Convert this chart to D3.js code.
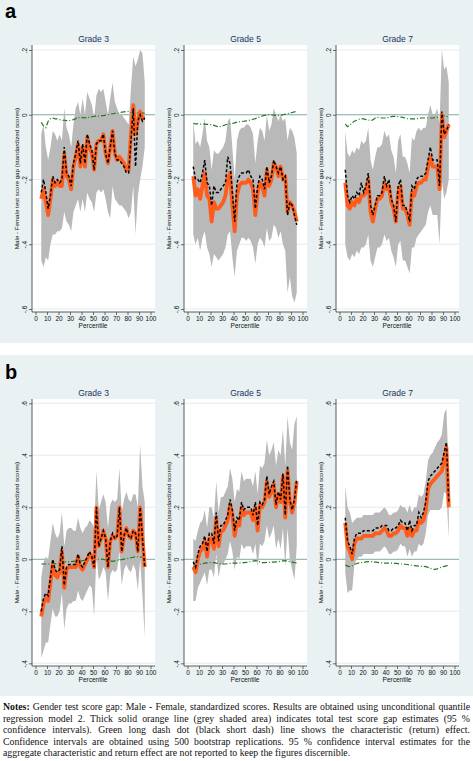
<!DOCTYPE html>
<html><head><meta charset="utf-8">
<script src="https://cdn.jsdelivr.net/npm/d3@7"></script>
<style>
html,body{margin:0;padding:0;background:#fff;width:473px;height:761px;overflow:hidden}
#chart{position:absolute;left:0;top:0}
#notes{position:absolute;left:3px;top:701px;width:467px;font-family:"Liberation Serif","Times New Roman",serif;font-size:9.8px;line-height:11.5px;color:#111}
#notes div{white-space:nowrap;text-align:justify;text-align-last:justify}
#notes div.last{text-align:left;text-align-last:left}
</style></head>
<body>
<svg id="chart" width="473" height="700"></svg>
<div id="notes"></div>
<script>
// ---------------- DATA ----------------
const percentiles = [5,7,9,11,13,15,17,19,21,23,25,27,29,31,33,35,37,39,41,43,45,47,49,51,53,55,57,59,61,63,65,67,69,71,73,75,77,79,81,83,85,87,89,91,93,95];
const grades = ["Grade 3","Grade 5","Grade 7"];
const panelLetters = ["a","b"];
const xTicks = [0,10,20,30,40,50,60,70,80,90,100];
const yTicksA = [-0.6,-0.4,-0.2,0,0.2];
const yTickLabelsA = ["-.6","-.4","-.2","0",".2"];
const yTicksB = [-0.4,-0.2,0,0.2,0.4,0.6];
const yTickLabelsB = ["-.4","-.2","0",".2",".4",".6"];
const yTitle = "Male - Female test score gap (standardized scores)";
const xTitle = "Percentile";
const notesLabel = "Notes:";
const notesLines = [
  " Gender test score gap: Male - Female, standardized scores. Results are obtained using unconditional quantile",
  "regression model 2. Thick solid orange line (grey shaded area) indicates total test score gap estimates (95 %",
  "confidence intervals). Green long dash dot (black short dash) line shows the characteristic (return) effect.",
  "Confidence intervals are obtained using 500 bootstrap replications. 95 % confidence interval estimates for the",
  "aggregate characteristic and return effect are not reported to keep the figures discernible."
];

// Panel a, Grade 3
const a3Total = [-0.26,-0.23,-0.27,-0.31,-0.26,-0.20,-0.22,-0.21,-0.22,-0.22,-0.12,-0.19,-0.20,-0.23,-0.16,-0.13,-0.09,-0.16,-0.10,-0.16,-0.07,-0.10,-0.12,-0.17,-0.09,-0.08,-0.08,-0.06,-0.12,-0.15,-0.10,-0.05,-0.12,-0.14,-0.13,-0.14,-0.15,-0.17,-0.17,-0.06,0.03,-0.06,-0.02,0.01,-0.01,-0.01];
const a3Return = [-0.24,-0.20,-0.24,-0.29,-0.25,-0.19,-0.21,-0.20,-0.21,-0.20,-0.10,-0.18,-0.19,-0.22,-0.15,-0.12,-0.08,-0.15,-0.09,-0.15,-0.06,-0.09,-0.11,-0.17,-0.09,-0.08,-0.08,-0.06,-0.12,-0.15,-0.10,-0.05,-0.12,-0.14,-0.14,-0.15,-0.16,-0.18,-0.18,-0.08,0.02,-0.16,-0.02,0.00,-0.02,-0.01];
const a3Char = [-0.023,-0.035,-0.04,-0.02,-0.012,-0.01,-0.013,-0.013,-0.015,-0.017,-0.017,-0.018,-0.018,-0.017,-0.015,-0.012,-0.008,-0.01,-0.008,-0.01,-0.008,-0.008,-0.006,-0.005,-0.003,-0.004,-0.003,-0.003,-0.001,0.0,0.002,0.003,0.004,0.004,0.006,0.008,0.009,0.01,0.01,0.006,0.002,0.004,0.006,0.007,0.006,0.004];
const a3Lower = [-0.45,-0.47,-0.44,-0.45,-0.40,-0.37,-0.37,-0.36,-0.36,-0.35,-0.30,-0.33,-0.34,-0.36,-0.30,-0.28,-0.26,-0.30,-0.26,-0.30,-0.24,-0.26,-0.27,-0.30,-0.24,-0.23,-0.24,-0.23,-0.26,-0.30,-0.32,-0.22,-0.26,-0.27,-0.28,-0.28,-0.29,-0.30,-0.32,-0.30,-0.22,-0.37,-0.25,-0.20,-0.16,-0.10];
const a3Upper = [-0.06,-0.03,-0.10,-0.14,-0.10,-0.05,-0.06,-0.08,-0.06,-0.08,0.02,-0.04,-0.06,-0.10,-0.03,0.02,0.04,0.00,0.05,0.00,0.07,0.05,0.03,-0.01,0.06,0.08,0.07,0.08,0.04,0.00,0.05,0.10,0.04,0.02,0.00,0.00,-0.01,-0.02,-0.03,0.08,0.18,0.15,0.17,0.20,0.19,0.10];

// Panel a, Grade 5
const a5Total = [-0.19,-0.25,-0.23,-0.26,-0.22,-0.18,-0.25,-0.26,-0.33,-0.27,-0.29,-0.29,-0.28,-0.27,-0.25,-0.20,-0.18,-0.28,-0.36,-0.25,-0.22,-0.21,-0.21,-0.21,-0.20,-0.21,-0.23,-0.31,-0.24,-0.21,-0.22,-0.25,-0.17,-0.22,-0.20,-0.15,-0.16,-0.19,-0.16,-0.20,-0.19,-0.30,-0.27,-0.28,-0.30,-0.33];
const a5Return = [-0.16,-0.20,-0.20,-0.21,-0.18,-0.14,-0.21,-0.22,-0.28,-0.22,-0.24,-0.24,-0.23,-0.22,-0.21,-0.13,-0.15,-0.24,-0.33,-0.21,-0.19,-0.18,-0.18,-0.18,-0.17,-0.19,-0.20,-0.29,-0.22,-0.19,-0.20,-0.23,-0.16,-0.21,-0.19,-0.14,-0.16,-0.18,-0.16,-0.20,-0.19,-0.31,-0.27,-0.28,-0.31,-0.34];
const a5Char = [-0.027,-0.028,-0.028,-0.029,-0.029,-0.029,-0.03,-0.03,-0.031,-0.033,-0.035,-0.038,-0.036,-0.034,-0.031,-0.029,-0.028,-0.027,-0.025,-0.023,-0.022,-0.021,-0.02,-0.019,-0.018,-0.016,-0.014,-0.012,-0.009,-0.006,-0.004,-0.002,-0.001,0.0,0.0,-0.001,-0.002,-0.003,-0.002,0.0,0.002,0.003,0.005,0.007,0.009,0.01];
const a5Lower = [-0.37,-0.40,-0.38,-0.42,-0.38,-0.36,-0.41,-0.43,-0.47,-0.43,-0.44,-0.45,-0.44,-0.43,-0.41,-0.37,-0.36,-0.44,-0.50,-0.42,-0.40,-0.38,-0.38,-0.39,-0.38,-0.39,-0.41,-0.46,-0.40,-0.38,-0.39,-0.41,-0.35,-0.39,-0.38,-0.34,-0.35,-0.38,-0.36,-0.40,-0.42,-0.55,-0.50,-0.56,-0.58,-0.55];
const a5Upper = [-0.02,-0.09,-0.08,-0.10,-0.06,-0.01,-0.08,-0.10,-0.17,-0.11,-0.12,-0.12,-0.11,-0.10,-0.08,-0.02,-0.01,-0.10,-0.20,-0.08,-0.05,-0.04,-0.04,-0.03,-0.03,-0.04,-0.06,-0.15,-0.08,-0.04,-0.05,-0.08,0.00,-0.05,-0.03,0.02,0.00,-0.02,0.00,-0.02,-0.01,-0.08,-0.04,-0.05,-0.07,-0.12];

// Panel a, Grade 7
const a7Total = [-0.21,-0.28,-0.29,-0.27,-0.28,-0.26,-0.27,-0.25,-0.25,-0.24,-0.20,-0.30,-0.33,-0.29,-0.26,-0.26,-0.25,-0.21,-0.23,-0.22,-0.27,-0.29,-0.33,-0.24,-0.22,-0.29,-0.29,-0.31,-0.34,-0.24,-0.25,-0.22,-0.21,-0.21,-0.20,-0.20,-0.16,-0.13,-0.16,-0.16,-0.16,-0.23,0.00,-0.07,-0.05,-0.03];
const a7Return = [-0.17,-0.25,-0.27,-0.25,-0.26,-0.24,-0.25,-0.21,-0.24,-0.22,-0.18,-0.28,-0.31,-0.28,-0.25,-0.25,-0.24,-0.19,-0.22,-0.20,-0.26,-0.28,-0.33,-0.22,-0.20,-0.28,-0.28,-0.30,-0.33,-0.22,-0.23,-0.20,-0.19,-0.19,-0.19,-0.18,-0.14,-0.10,-0.14,-0.14,-0.14,-0.22,0.01,-0.06,-0.05,-0.03];
const a7Char = [-0.029,-0.037,-0.032,-0.025,-0.02,-0.017,-0.014,-0.012,-0.013,-0.015,-0.016,-0.018,-0.016,-0.01,-0.008,-0.009,-0.01,-0.01,-0.009,-0.008,-0.006,-0.005,-0.005,-0.006,-0.007,-0.008,-0.01,-0.012,-0.013,-0.013,-0.013,-0.012,-0.011,-0.01,-0.01,-0.01,-0.01,-0.01,-0.01,-0.009,-0.008,-0.006,-0.004,-0.003,-0.005,-0.006];
const a7Lower = [-0.40,-0.44,-0.45,-0.43,-0.44,-0.42,-0.43,-0.41,-0.41,-0.40,-0.37,-0.45,-0.47,-0.44,-0.41,-0.41,-0.40,-0.37,-0.39,-0.38,-0.42,-0.44,-0.47,-0.40,-0.39,-0.45,-0.45,-0.47,-0.49,-0.41,-0.41,-0.38,-0.37,-0.36,-0.35,-0.34,-0.30,-0.28,-0.31,-0.31,-0.31,-0.40,-0.20,-0.26,-0.24,-0.20];
const a7Upper = [-0.05,-0.12,-0.13,-0.11,-0.12,-0.10,-0.11,-0.08,-0.09,-0.08,-0.04,-0.14,-0.17,-0.13,-0.10,-0.10,-0.09,-0.05,-0.07,-0.06,-0.11,-0.13,-0.18,-0.08,-0.06,-0.13,-0.13,-0.15,-0.18,-0.07,-0.08,-0.05,-0.04,-0.05,-0.04,-0.04,0.00,0.03,0.00,0.00,0.02,-0.03,0.20,0.14,0.15,0.10];

// Panel b, Grade 3
const b3Total = [-0.22,-0.17,-0.15,-0.16,-0.09,-0.02,-0.06,-0.07,-0.05,0.03,-0.11,-0.04,-0.03,-0.03,-0.03,-0.03,0.01,-0.03,-0.04,-0.02,0.00,0.02,0.01,-0.03,0.20,0.05,0.08,0.11,0.08,-0.03,0.07,0.09,0.08,0.09,0.20,0.03,0.09,0.12,0.09,0.08,0.11,0.10,0.03,0.20,0.08,-0.03];
const b3Return = [-0.20,-0.15,-0.13,-0.14,-0.07,0.00,-0.04,-0.05,-0.04,0.05,-0.10,-0.03,-0.02,-0.02,-0.02,-0.02,0.02,-0.02,-0.03,-0.01,0.01,0.03,0.01,-0.03,0.20,0.05,0.08,0.11,0.08,-0.03,0.07,0.10,0.08,0.09,0.20,0.03,0.09,0.12,0.09,0.08,0.11,0.10,0.03,0.20,0.08,-0.03];
const b3Char = [-0.018,-0.018,-0.018,-0.018,-0.018,-0.018,-0.017,-0.016,-0.014,-0.013,-0.011,-0.009,-0.009,-0.009,-0.008,-0.007,-0.006,-0.006,-0.005,-0.004,-0.003,-0.003,-0.003,-0.002,-0.001,0.001,0.001,0.0,-0.002,-0.003,-0.006,-0.008,-0.006,-0.004,-0.003,-0.001,0.001,0.002,0.004,0.006,0.008,0.01,0.01,0.009,0.008,0.006];
const b3Lower = [-0.38,-0.35,-0.32,-0.32,-0.25,-0.19,-0.22,-0.22,-0.20,-0.13,-0.27,-0.19,-0.17,-0.17,-0.16,-0.16,-0.12,-0.15,-0.16,-0.14,-0.12,-0.10,-0.11,-0.22,0.02,-0.08,-0.06,-0.03,-0.05,-0.16,-0.06,-0.04,-0.05,-0.04,0.03,-0.10,-0.04,-0.02,-0.04,-0.05,-0.02,-0.04,-0.12,0.00,-0.14,-0.30];
const b3Upper = [-0.07,-0.01,0.01,0.00,0.07,0.14,0.10,0.08,0.10,0.18,0.05,0.11,0.12,0.12,0.11,0.11,0.16,0.12,0.10,0.12,0.13,0.15,0.14,0.12,0.34,0.19,0.22,0.25,0.22,0.12,0.21,0.23,0.22,0.23,0.35,0.18,0.23,0.26,0.23,0.22,0.25,0.25,0.20,0.44,0.28,0.22];

// Panel b, Grade 5
const b5Total = [-0.03,-0.05,0.00,0.03,0.04,0.07,0.01,0.08,0.08,0.04,0.16,0.05,0.11,0.11,0.13,0.15,0.21,0.17,0.09,0.14,0.13,0.20,0.17,0.18,0.18,0.18,0.15,0.20,0.11,0.21,0.20,0.22,0.30,0.24,0.26,0.29,0.20,0.25,0.22,0.32,0.16,0.34,0.22,0.18,0.22,0.30];
const b5Return = [-0.01,-0.03,0.02,0.05,0.06,0.09,0.03,0.10,0.10,0.06,0.18,0.07,0.13,0.13,0.15,0.17,0.23,0.19,0.11,0.16,0.15,0.22,0.19,0.20,0.20,0.20,0.17,0.22,0.13,0.22,0.21,0.23,0.32,0.25,0.28,0.30,0.21,0.26,0.23,0.33,0.17,0.36,0.23,0.19,0.23,0.31];
const b5Char = [-0.028,-0.024,-0.021,-0.019,-0.017,-0.015,-0.014,-0.013,-0.012,-0.013,-0.015,-0.016,-0.017,-0.018,-0.018,-0.017,-0.016,-0.015,-0.015,-0.015,-0.014,-0.014,-0.013,-0.012,-0.011,-0.009,-0.007,-0.005,-0.006,-0.01,-0.013,-0.013,-0.012,-0.012,-0.011,-0.011,-0.01,-0.009,-0.008,-0.006,-0.005,-0.007,-0.009,-0.011,-0.013,-0.014];
const b5Lower = [-0.16,-0.16,-0.11,-0.09,-0.07,-0.05,-0.10,-0.04,-0.04,-0.07,0.02,-0.07,-0.02,-0.02,0.00,0.02,0.07,0.03,-0.04,0.01,0.00,0.06,0.04,0.05,0.05,0.05,0.02,0.06,-0.03,0.06,0.05,0.07,0.13,0.08,0.10,0.13,0.04,0.08,0.04,0.12,-0.03,0.12,0.00,-0.04,-0.08,0.05];
const b5Upper = [0.08,0.07,0.11,0.14,0.15,0.19,0.12,0.20,0.20,0.16,0.30,0.18,0.24,0.24,0.26,0.28,0.35,0.31,0.22,0.27,0.26,0.34,0.30,0.31,0.31,0.31,0.28,0.34,0.25,0.36,0.35,0.37,0.46,0.40,0.42,0.45,0.36,0.42,0.40,0.50,0.36,0.55,0.45,0.42,0.52,0.55];

// Panel b, Grade 7
const b7Total = [0.14,0.05,0.03,0.00,0.06,0.08,0.08,0.08,0.09,0.09,0.09,0.09,0.09,0.10,0.10,0.10,0.11,0.12,0.11,0.09,0.09,0.10,0.10,0.11,0.13,0.12,0.12,0.09,0.12,0.09,0.11,0.11,0.15,0.14,0.15,0.19,0.27,0.29,0.30,0.31,0.32,0.33,0.34,0.38,0.43,0.20];
const b7Return = [0.16,0.07,0.05,0.02,0.08,0.10,0.10,0.10,0.11,0.11,0.11,0.11,0.11,0.12,0.12,0.12,0.13,0.13,0.13,0.11,0.11,0.12,0.12,0.13,0.15,0.14,0.14,0.11,0.15,0.11,0.13,0.13,0.18,0.16,0.18,0.22,0.30,0.32,0.33,0.34,0.35,0.36,0.37,0.41,0.45,0.22];
const b7Char = [-0.022,-0.026,-0.028,-0.025,-0.02,-0.016,-0.014,-0.013,-0.012,-0.01,-0.009,-0.009,-0.01,-0.011,-0.012,-0.013,-0.014,-0.015,-0.015,-0.015,-0.015,-0.016,-0.016,-0.017,-0.018,-0.018,-0.019,-0.02,-0.022,-0.023,-0.024,-0.025,-0.026,-0.027,-0.027,-0.028,-0.031,-0.035,-0.038,-0.039,-0.037,-0.033,-0.03,-0.027,-0.025,-0.023];
const b7Lower = [-0.05,-0.13,-0.12,-0.12,-0.02,0.00,0.01,0.01,0.02,0.02,0.02,0.02,0.02,0.03,0.03,0.03,0.04,0.05,0.04,0.02,0.02,0.03,0.03,0.04,0.06,0.05,0.05,0.01,0.04,0.01,0.03,0.03,0.06,0.05,0.06,0.10,0.17,0.19,0.19,0.19,0.19,0.19,0.20,0.26,0.25,0.08];
const b7Upper = [0.28,0.20,0.18,0.14,0.15,0.16,0.16,0.16,0.17,0.17,0.17,0.17,0.17,0.18,0.18,0.18,0.19,0.20,0.19,0.17,0.17,0.18,0.18,0.19,0.21,0.20,0.20,0.18,0.21,0.18,0.20,0.20,0.25,0.24,0.25,0.30,0.38,0.40,0.41,0.43,0.45,0.46,0.48,0.56,0.58,0.32];

// ---------------- LAYOUT ----------------
const svg = d3.select("#chart");
const C = {
  bg:"#e9f1f2", band:"#b9b9b9", orange:"#ff5c1c", green:"#1f7a1f",
  grid:"#dbe7ea", zero:"#6f9f9c", axis:"#4a4a4a", title:"#1d3461"
};
const sans = "'Liberation Sans', Arial, sans-serif";

const panelDefs = [
  {letter:panelLetters[0], bgTop:0, bgBot:343, letterY:18, titleY:42, plotTop:45, plotBot:312,
   yDomain:[-0.6,0.2], yRange:[309,50], ticks:yTicksA, tickLabels:yTickLabelsA,
   series:[
     {total:a3Total, ret:a3Return, chr:a3Char, lo:a3Lower, hi:a3Upper},
     {total:a5Total, ret:a5Return, chr:a5Char, lo:a5Lower, hi:a5Upper},
     {total:a7Total, ret:a7Return, chr:a7Char, lo:a7Lower, hi:a7Upper}]},
  {letter:panelLetters[1], bgTop:355, bgBot:696, letterY:379, titleY:396, plotTop:399, plotBot:666,
   yDomain:[-0.4,0.6], yRange:[663.3,403.3], ticks:yTicksB, tickLabels:yTickLabelsB,
   series:[
     {total:b3Total, ret:b3Return, chr:b3Char, lo:b3Lower, hi:b3Upper},
     {total:b5Total, ret:b5Return, chr:b5Char, lo:b5Lower, hi:b5Upper},
     {total:b7Total, ret:b7Return, chr:b7Char, lo:b7Lower, hi:b7Upper}]}
];

panelDefs.forEach(P => {
  svg.append("rect").attr("x",0).attr("y",P.bgTop).attr("width",473).attr("height",P.bgBot-P.bgTop).attr("fill",C.bg);
  svg.append("text").attr("x",5).attr("y",P.letterY).text(P.letter)
     .attr("font-family",sans).attr("font-weight","bold").attr("font-size",20).attr("fill","#000");

  const y = d3.scaleLinear().domain(P.yDomain).range(P.yRange);

  grades.forEach((gname, i) => {
    const ax = 32 + 152*i;
    const pw = 123;
    const x = d3.scaleLinear().domain([0,100]).range([ax+3.5, ax+118.5]);
    const g = svg.append("g");
    const S = P.series[i];
    const rows = percentiles.map((p,k)=>({p, total:S.total[k], ret:S.ret[k], chr:S.chr[k], lo:S.lo[k], hi:S.hi[k]}));

    g.append("rect").attr("x",ax).attr("y",P.plotTop).attr("width",pw).attr("height",P.plotBot-P.plotTop).attr("fill","#fff");

    g.selectAll(".grid").data(P.ticks.filter(t=>t!==0)).join("line")
      .attr("x1",ax).attr("x2",ax+pw).attr("y1",d=>y(d)).attr("y2",d=>y(d))
      .attr("stroke",C.grid).attr("stroke-width",0.8);
    g.append("line").attr("x1",ax).attr("x2",ax+pw).attr("y1",y(0)).attr("y2",y(0))
      .attr("stroke",C.zero).attr("stroke-width",0.9);

    g.append("path").datum(rows)
      .attr("d", d3.area().x(d=>x(d.p)).y0(d=>y(d.lo)).y1(d=>y(d.hi)))
      .attr("fill",C.band);

    g.append("path").datum(rows)
      .attr("d", d3.line().x(d=>x(d.p)).y(d=>y(d.chr)))
      .attr("fill","none").attr("stroke",C.green).attr("stroke-width",1.2)
      .attr("stroke-dasharray","5,2,1,2");

    g.append("path").datum(rows)
      .attr("d", d3.line().x(d=>x(d.p)).y(d=>y(d.total)))
      .attr("fill","none").attr("stroke",C.orange).attr("stroke-width",3.8)
      .attr("stroke-linejoin","round");

    g.append("path").datum(rows)
      .attr("d", d3.line().x(d=>x(d.p)).y(d=>y(d.ret)))
      .attr("fill","none").attr("stroke","#000").attr("stroke-width",1.5)
      .attr("stroke-dasharray","3,2");

    const yAxis = d3.axisLeft(y).tickValues(P.ticks).tickSize(3)
      .tickFormat((d,k)=>P.tickLabels[k]);
    const ya = g.append("g").attr("transform",`translate(${ax},0)`).call(yAxis);
    ya.select(".domain").attr("d",`M0,${P.plotTop}V${P.plotBot}`).attr("stroke",C.axis).attr("stroke-width",0.9);
    ya.selectAll(".tick line").attr("stroke",C.axis).attr("stroke-width",0.8);
    ya.selectAll(".tick text")
      .attr("x",0).attr("dy",0).attr("text-anchor","middle")
      .attr("transform","translate(-5,0) rotate(-90)")
      .attr("font-family",sans).attr("font-size",6.5).attr("fill","#111");

    const xAxis = d3.axisBottom(x).tickValues(xTicks).tickSize(3).tickFormat(d3.format("d"));
    const xa = g.append("g").attr("transform",`translate(0,${P.plotBot})`).call(xAxis);
    xa.select(".domain").attr("d",`M${ax},0H${ax+pw}`).attr("stroke",C.axis).attr("stroke-width",0.9);
    xa.selectAll(".tick line").attr("stroke",C.axis).attr("stroke-width",0.8);
    xa.selectAll(".tick text").attr("y",4).attr("dy","0.71em")
      .attr("font-family",sans).attr("font-size",6.5).attr("fill","#111");

    g.append("text").attr("x",ax+pw/2).attr("y",P.titleY).attr("text-anchor","middle")
      .attr("font-family",sans).attr("font-size",8.5).attr("fill",C.title).text(gname);
    g.append("text").attr("x",(x(0)+x(100))/2).attr("y",P.plotBot+16).attr("text-anchor","middle")
      .attr("font-family",sans).attr("font-size",6.5).attr("fill","#111").text(xTitle);
    g.append("text").attr("transform",`translate(${ax-13.5},${(P.plotTop+P.plotBot)/2}) rotate(-90)`)
      .attr("text-anchor","middle").attr("font-family",sans).attr("font-size",6.2).attr("fill","#111")
      .text(yTitle);
  });
});

// notes
const notes = d3.select("#notes");
notesLines.forEach((line,k) => {
  const div = notes.append("div").classed("last", k === notesLines.length-1);
  if (k === 0) div.append("b").text(notesLabel);
  div.append("span").text(line);
});
</script>
</body></html>
